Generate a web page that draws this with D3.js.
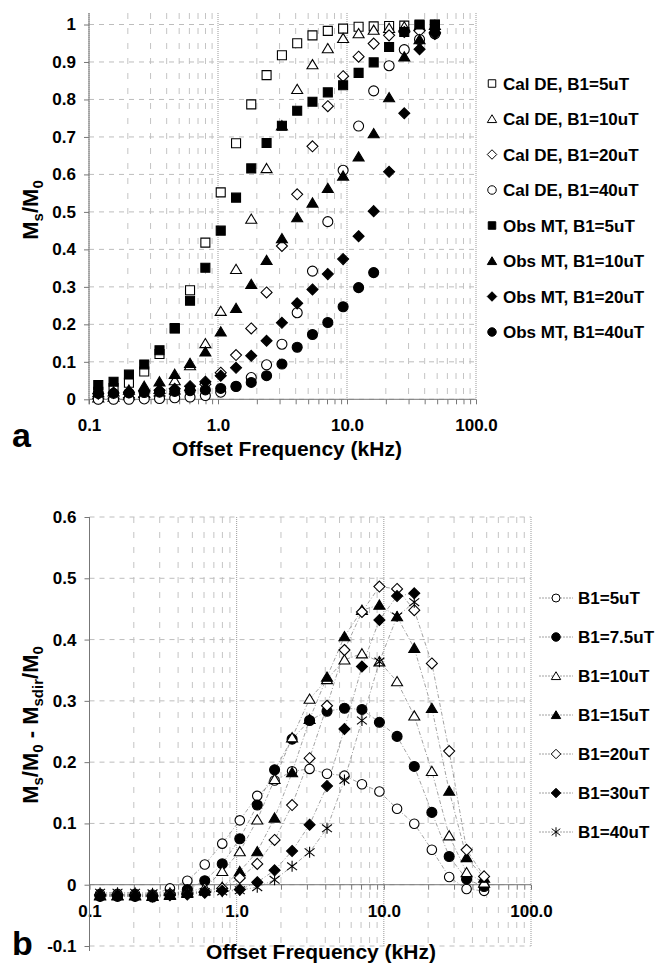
<!DOCTYPE html>
<html lang="en">
<head>
<meta charset="utf-8">
<title>Ms/M0 vs offset frequency</title>
<script src="https://cdn.jsdelivr.net/npm/d3@7/dist/d3.min.js"></script>
<style>
body { margin: 0; background: #fff; }
text { font-family: "Liberation Sans", Arial, Helvetica, sans-serif; font-weight: bold; fill: #000; }
</style>
</head>
<body>
<script>
// offset frequencies (kHz), same for both panels
var freq = [0.118, 0.155, 0.204, 0.268, 0.352, 0.462, 0.607, 0.798, 1.05, 1.38, 1.81, 2.38,
            3.13, 4.11, 5.40, 7.10, 9.33, 12.3, 16.1, 21.2, 27.8, 36.5, 48.0];

// panel a : Ms/M0
var calDE5  = [0.02, 0.03, 0.044, 0.074, 0.121, 0.19, 0.291, 0.418, 0.552, 0.683, 0.787, 0.865,
               0.918, 0.95, 0.971, 0.983, 0.989, 0.994, 0.995, 0.996, 0.997, 0.998, 0.999];
var calDE10 = [0.004, 0.006, 0.01, 0.016, 0.027, 0.05, 0.09, 0.149, 0.235, 0.347, 0.481, 0.616,
               0.73, 0.827, 0.893, 0.936, 0.963, 0.976, 0.985, 0.99, 0.994, 0.996, 0.998];
var calDE20 = [0.002, 0.003, 0.004, 0.006, 0.009, 0.014, 0.024, 0.04, 0.071, 0.118, 0.189, 0.285,
               0.409, 0.547, 0.675, 0.782, 0.862, 0.914, 0.949, 0.971, 0.98, 0.983, 0.977];
var calDE40 = [0.0, 0.0, 0.0, 0.001, 0.002, 0.004, 0.006, 0.01, 0.019, 0.035, 0.058, 0.092,
               0.147, 0.231, 0.342, 0.474, 0.611, 0.729, 0.823, 0.89, 0.933, 0.96, 0.975];
var obsMT5  = [0.038, 0.047, 0.066, 0.093, 0.131, 0.189, 0.263, 0.351, 0.45, 0.538, 0.616, 0.684,
               0.73, 0.77, 0.794, 0.819, 0.838, 0.871, 0.899, 0.94, 0.98, 1.0, 1.0];
var obsMT10 = [0.018, 0.02, 0.025, 0.035, 0.047, 0.067, 0.096, 0.127, 0.18, 0.243, 0.307, 0.371,
               0.429, 0.485, 0.524, 0.563, 0.596, 0.647, 0.709, 0.805, 0.914, 0.96, 0.99];
var obsMT20 = [0.015, 0.017, 0.019, 0.021, 0.024, 0.028, 0.035, 0.047, 0.063, 0.084, 0.116, 0.156,
               0.204, 0.256, 0.293, 0.334, 0.374, 0.435, 0.502, 0.607, 0.763, 0.934, 0.975];
var obsMT40 = [0.016, 0.016, 0.017, 0.018, 0.019, 0.021, 0.023, 0.025, 0.029, 0.034, 0.045, 0.063,
               0.094, 0.139, 0.173, 0.205, 0.247, 0.298, 0.338];
var legendA = ["Cal DE, B1=5uT", "Cal DE, B1=10uT", "Cal DE, B1=20uT", "Cal DE, B1=40uT",
               "Obs MT, B1=5uT", "Obs MT, B1=10uT", "Obs MT, B1=20uT", "Obs MT, B1=40uT"];
var yTicksA = [0, 0.1, 0.2, 0.3, 0.4, 0.5, 0.6, 0.7, 0.8, 0.9, 1];

// panel b : Ms/M0 - Msdir/M0
var dif5   = [-0.015, -0.015, -0.015, -0.016, -0.006, 0.0065, 0.033, 0.067, 0.105, 0.145, 0.17, 0.185,
              0.189, 0.181, 0.178, 0.164, 0.152, 0.124, 0.0995, 0.057, 0.0125, -0.007, -0.01];
var dif7_5 = [-0.019, -0.019, -0.019, -0.02, -0.016, -0.008, 0.0065, 0.034, 0.075, 0.13, 0.1875, 0.2375,
              0.268, 0.283, 0.288, 0.286, 0.265, 0.242, 0.193, 0.118, 0.046, 0.009, -0.003];
var dif10  = [-0.017, -0.017, -0.017, -0.018, -0.016, -0.012, -0.005, 0.022, 0.054, 0.106, 0.172, 0.24,
              0.303, 0.335, 0.367, 0.377, 0.364, 0.3315, 0.2755, 0.185, 0.08, 0.02, 0.003];
var dif15  = [-0.018, -0.018, -0.018, -0.019, -0.017, -0.014, -0.01, -0.004, 0.0217, 0.054, 0.109, 0.183,
              0.27, 0.339, 0.405, 0.448, 0.4565, 0.4375, 0.386, 0.288, 0.153, 0.0446, 0.011];
var dif20  = [-0.016, -0.016, -0.016, -0.017, -0.015, -0.014, -0.012, -0.006, 0.011, 0.034, 0.073, 0.13,
              0.2065, 0.292, 0.383, 0.445, 0.4865, 0.4826, 0.448, 0.361, 0.218, 0.057, 0.0136];
var dif30  = [-0.018, -0.018, -0.018, -0.019, -0.017, -0.016, -0.013, -0.01, -0.008, 0.004, 0.0235, 0.055,
              0.098, 0.161, 0.254, 0.356, 0.432, 0.471, 0.4755];
var dif40  = [-0.013, -0.013, -0.013, -0.014, -0.013, -0.012, -0.012, -0.011, -0.009, -0.004, 0.008, 0.03,
              0.053, 0.092, 0.171, 0.268, 0.364, 0.4375, 0.461];
var legendB = ["B1=5uT", "B1=7.5uT", "B1=10uT", "B1=15uT", "B1=20uT", "B1=30uT", "B1=40uT"];
var yTicksB = [-0.1, 0, 0.1, 0.2, 0.3, 0.4, 0.5, 0.6];

var xMajor = [0.1, 1, 10, 100];
var xTickLabels = ["0.1", "1.0", "10.0", "100.0"];

/* marker shapes, size = width in px */
var sqr = { draw: function(c, s) { var r = s / 2; c.moveTo(-r, -r); c.lineTo(r, -r); c.lineTo(r, r); c.lineTo(-r, r); c.closePath(); } };
var tri = { draw: function(c, s) { c.moveTo(0, -s * 0.5); c.lineTo(s * 0.55, s * 0.42); c.lineTo(-s * 0.55, s * 0.42); c.closePath(); } };
var dia = { draw: function(c, s) { var r = s / 2; c.moveTo(0, -r); c.lineTo(r, 0); c.lineTo(0, r); c.lineTo(-r, 0); c.closePath(); } };
var circ = { draw: function(c, s) { c.moveTo(s / 2, 0); c.arc(0, 0, s / 2, 0, 2 * Math.PI); } };
var star = { draw: function(c, s) {
	var r = s / 2;
	c.moveTo(0, -r); c.lineTo(0, r);
	c.moveTo(-r * 0.9, -r * 0.7); c.lineTo(r * 0.9, r * 0.7);
	c.moveTo(-r * 0.9, r * 0.7); c.lineTo(r * 0.9, -r * 0.7);
} };

var w = 659, h = 964;
var svg = d3.select("body").append("svg").attr("width", w).attr("height", h);

function fmtY(d) { return d === 0 ? "0" : String(+d.toFixed(1)); }

// grid, axes, tick labels for one panel
function frame(x, y, yTicks, top, bottom) {
	var g = svg.append("g");
	var x0 = x.range()[0], x1 = x.range()[1];
	g.selectAll(null).data(x.ticks()).enter().append("line")
		.attr("x1", function(d) { return x(d); }).attr("x2", function(d) { return x(d); })
		.attr("y1", top).attr("y2", bottom)
		.attr("stroke", function(d) { return xMajor.indexOf(d) >= 0 ? "#999" : "#c4c4c4"; })
		.attr("stroke-width", 1)
		.attr("stroke-dasharray", function(d) { return xMajor.indexOf(d) >= 0 ? "1,1" : "6,9"; });
	g.selectAll(null).data(yTicks).enter().append("line")
		.attr("x1", x0).attr("x2", x1)
		.attr("y1", function(d) { return y(d); }).attr("y2", function(d) { return y(d); })
		.attr("stroke", "#bdbdbd").attr("stroke-dasharray", "5,5");

	// x axis sits on y = 0
	var xa = d3.axisBottom(x).tickValues(x.ticks()).tickSize(5).tickPadding(15)
		.tickFormat(function(d) { var k = xMajor.indexOf(d); return k >= 0 ? xTickLabels[k] : ""; });
	var gx = svg.append("g").attr("transform", "translate(0," + y(0) + ")").call(xa);
	gx.select(".domain").remove();
	gx.selectAll("line").attr("stroke", "#777");
	gx.selectAll("text").attr("font-size", 17).attr("font-family", null);
	svg.append("line").attr("x1", x0).attr("x2", x1).attr("y1", y(0)).attr("y2", y(0)).attr("stroke", "#777");

	var ya = d3.axisLeft(y).tickValues(yTicks).tickSize(5).tickPadding(8).tickFormat(fmtY);
	var gy = svg.append("g").attr("transform", "translate(" + x0 + ",0)").call(ya);
	gy.select(".domain").remove();
	gy.selectAll("line").attr("stroke", "#777");
	gy.selectAll("text").attr("font-size", 17).attr("font-family", null);
	svg.append("line").attr("x1", x0).attr("x2", x0).attr("y1", top).attr("y2", bottom + 5).attr("stroke", "#777");
}

function marks(x, y, vals, sym, size, fill) {
	svg.append("g").selectAll("path").data(vals).enter().append("path")
		.attr("transform", function(d, i) { return "translate(" + x(freq[i]) + "," + y(d) + ")"; })
		.attr("d", d3.symbol().type(sym).size(size))
		.attr("fill", fill)
		.attr("stroke", "#000")
		.attr("stroke-width", 1.1);
}

function yLabel(cx, cy, parts) {
	var t = svg.append("text").attr("transform", "translate(" + cx + "," + cy + ") rotate(-90)")
		.attr("text-anchor", "middle").attr("font-size", 22);
	var shift = 0;
	parts.forEach(function(p) {
		var dy = p[1] ? 5 - shift : -shift;
		shift = p[1] ? 5 : 0;
		t.append("tspan").attr("dy", dy).attr("font-size", p[1] ? 15 : 22).text(p[0]);
	});
}

/* ---------- panel a ---------- */
var xA = d3.scaleLog().domain([0.1, 100]).range([89, 476]);
var yA = d3.scaleLinear().domain([0, 1]).range([399.3, 24.5]);
frame(xA, yA, yTicksA, 13, 399.3);

var seriesA = [
	[calDE5, sqr, 9, "#fff"], [calDE10, tri, 10, "#fff"], [calDE20, dia, 11, "#fff"], [calDE40, circ, 10, "#fff"],
	[obsMT5, sqr, 9, "#000"], [obsMT10, tri, 10, "#000"], [obsMT20, dia, 11, "#000"], [obsMT40, circ, 10, "#000"]
];
seriesA.forEach(function(s) { marks(xA, yA, s[0], s[1], s[2], s[3]); });

seriesA.forEach(function(s, k) {
	var ly = 83.5 + 35.5 * k;
	svg.append("path").attr("transform", "translate(492," + ly + ")")
		.attr("d", d3.symbol().type(s[1]).size(s[2] - 1.5))
		.attr("fill", s[3]).attr("stroke", "#000");
	svg.append("text").attr("x", 503).attr("y", ly + 6).attr("font-size", 17).text(legendA[k]);
});

yLabel(38, 210, [["M", 0], ["s", 1], ["/M", 0], ["0", 1]]);
svg.append("text").attr("x", 287).attr("y", 456).attr("text-anchor", "middle").attr("font-size", 21)
	.text("Offset Frequency (kHz)");
svg.append("text").attr("x", 12).attr("y", 447).attr("font-size", 34).text("a");

/* ---------- panel b ---------- */
var xB = d3.scaleLog().domain([0.1, 100]).range([89.5, 531]);
var yB = d3.scaleLinear().domain([-0.1, 0.6]).range([946, 517]);
frame(xB, yB, yTicksB, 517, 946);

var seriesB = [
	[dif5, circ, 9.5, "#fff"], [dif7_5, circ, 10, "#000"], [dif10, tri, 10, "#fff"], [dif15, tri, 10, "#000"],
	[dif20, dia, 11, "#fff"], [dif30, dia, 11, "#000"], [dif40, star, 11, "none"]
];
var line = d3.line().x(function(d, i) { return xB(freq[i]); }).y(function(d) { return yB(d); });
seriesB.forEach(function(s) {
	svg.append("path").datum(s[0]).attr("d", line)
		.attr("fill", "none").attr("stroke", "#8a8a8a").attr("stroke-width", 0.8)
		.attr("stroke-dasharray", "4,2,1,2");
});
seriesB.forEach(function(s) { marks(xB, yB, s[0], s[1], s[2], s[3]); });

seriesB.forEach(function(s, k) {
	var ly = 598 + 39 * k;
	svg.append("line").attr("x1", 539).attr("x2", 573).attr("y1", ly).attr("y2", ly)
		.attr("stroke", "#8a8a8a").attr("stroke-width", 0.8).attr("stroke-dasharray", "2,1");
	svg.append("path").attr("transform", "translate(556," + ly + ")")
		.attr("d", d3.symbol().type(s[1]).size(s[2] - 1.5))
		.attr("fill", s[3] === "none" ? "none" : s[3]).attr("stroke", "#000");
	svg.append("text").attr("x", 578).attr("y", ly + 6).attr("font-size", 17).text(legendB[k]);
});

yLabel(38, 725, [["M", 0], ["s", 1], ["/M", 0], ["0", 1], [" - M", 0], ["sdir", 1], ["/M", 0], ["0", 1]]);
svg.append("text").attr("x", 321).attr("y", 959).attr("text-anchor", "middle").attr("font-size", 21)
	.text("Offset Frequency (kHz)");
svg.append("text").attr("x", 12).attr("y", 955).attr("font-size", 34).text("b");
</script>
</body>
</html>
